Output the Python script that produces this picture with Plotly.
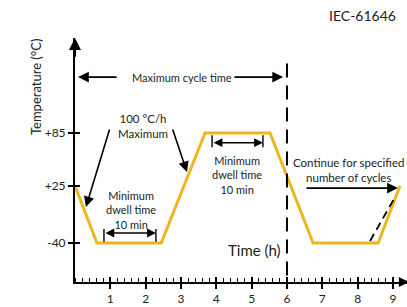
import plotly.graph_objects as go

# ---------------- data ----------------
profile_time_h = [0, 0.62, 2.44, 3.68, 5.52, 6.74, 8.58, 9.2]
profile_temp_c = [25, -40, -40, 85, 85, -40, -40, 25]

continue_time_h = [8.35, 9.06]
continue_temp_c = [-37.7, 12.3]

cycle_end_time_h = [6, 6]
cycle_end_temp_c = [164, -79]

x_tick_vals = [1, 2, 3, 4, 5, 6, 7, 8, 9]
x_tick_text = ["1", "2", "3", "4", "5", "6", "7", "8", "9"]
y_tick_vals = [-40, 25, 85]
y_tick_text = ["-40", "+25", "+85"]

X_RANGE = [0, 9.397]
Y_RANGE = [-84.3, 193]

FONT = "Lato, 'DejaVu Sans', sans-serif"
TXT = "#222222"
GOLD = "#EFB521"

fig = go.Figure()

fig.add_trace(go.Scatter(
    x=profile_time_h, y=profile_temp_c, mode="lines",
    line=dict(color=GOLD, width=3), hoverinfo="skip", showlegend=False,
    cliponaxis=False))

fig.add_trace(go.Scatter(
    x=continue_time_h, y=continue_temp_c, mode="lines",
    line=dict(color="black", width=1.8, dash="8px,5px"),
    hoverinfo="skip", showlegend=False))

fig.add_trace(go.Scatter(
    x=cycle_end_time_h, y=cycle_end_temp_c, mode="lines",
    line=dict(color="black", width=2, dash="14px,8px"),
    hoverinfo="skip", showlegend=False))

# invisible trace for overlay axes (inside halves of major ticks)
fig.add_trace(go.Scatter(x=[None], y=[None], xaxis="x2", yaxis="y2",
                         showlegend=False, hoverinfo="skip"))

annotations = []

def text(x, y, s, size=11, xanchor="center", yanchor="middle", xref="x", yref="y",
         angle=0):
    annotations.append(dict(x=x, y=y, xref=xref, yref=yref, text=s, showarrow=False,
                            xanchor=xanchor, yanchor=yanchor, textangle=angle,
                            font=dict(family=FONT, size=size, color=TXT)))

def arrow(x0, y0, x1, y1, both=False, head=2, size=1.3, width=1.6):
    a = dict(x=x1, y=y1, ax=x0, ay=y0, xref="x", yref="y", axref="x", ayref="y",
             text="", showarrow=True, arrowhead=head, arrowsize=size,
             arrowwidth=width, arrowcolor="black", standoff=0, startstandoff=0)
    if both:
        a.update(arrowside="end+start", startarrowhead=head, startarrowsize=size)
    annotations.append(a)

def bar(x, y0, y1):
    annotations.append(dict(x=x, y=y0, ax=x, ay=y1, xref="x", yref="y",
                            axref="x", ayref="y", text="", showarrow=True,
                            arrowhead=0, arrowwidth=1.4, arrowcolor="black",
                            standoff=0, startstandoff=0))

# header / titles
text(0.973, 1.094, "IEC-61646", size=14, xanchor="right", xref="paper", yref="paper")
text(-0.1175, 0.799, "Temperature (°C)", size=13, xref="paper", yref="paper", angle=-90)
text(5.89, -48, "Time (h)", size=15, xanchor="right")

# axis arrows
arrow(0, 170, 0, 193, head=2, size=1.2, width=2)
arrow(9.2, -84.3, 9.45, -84.3, head=2, size=1.0, width=2)

# maximum cycle time
text(3.03, 148.6, "Maximum cycle time", size=11)
arrow(1.22, 148.6, 0.085, 148.6, head=2, size=1.2, width=1.8)
arrow(4.47, 148.6, 5.89, 148.6, head=2, size=1.2, width=1.8)

# ramp rate
text(1.92, 93.5, "100 °C/h<br>Maximum", size=11.5)
arrow(0.99, 90.7, 0.31, 0.9, head=2, size=1.3, width=1.6)
arrow(2.75, 90.7, 3.17, 40.7, head=2, size=1.3, width=1.6)

# left dwell
text(1.585, -2.5, "Minimum<br>dwell time<br>10 min", size=11)
arrow(0.82, -28.6, 2.29, -28.6, both=True, head=2, size=1.1, width=1.6)
for tx in (0.82, 2.29):
    bar(tx, -38.5, -22.5)

# right dwell
text(4.585, 37.3, "Minimum<br>dwell time<br>10 min", size=11)
arrow(3.88, 74.0, 5.32, 74.0, both=True, head=2, size=1.1, width=1.6)
for tx in (3.88, 5.32):
    bar(tx, 82.5, 67.0)

# continue
text(7.73, 43.5, "Continue for specified<br>number of cycles", size=11.5)
arrow(6.51, 22.5, 9.14, 22.5, head=2, size=1.2, width=1.8)

axis_common = dict(showgrid=False, zeroline=False)

fig.update_layout(
    width=407, height=307,
    margin=dict(l=75, r=0, t=38, b=25, pad=0),
    paper_bgcolor="white", plot_bgcolor="white",
    showlegend=False,
    annotations=annotations,
    xaxis=dict(range=X_RANGE, showline=True, linecolor="black", linewidth=2,
               tickmode="array", tickvals=x_tick_vals, ticktext=x_tick_text,
               ticks="outside", ticklen=5, tickwidth=1.6, tickcolor="black",
               tickfont=dict(family=FONT, size=12, color=TXT),
               minor=dict(ticks="inside", ticklen=4, tickwidth=1.3, tickcolor="black",
                          tick0=0, dtick=0.2),
               fixedrange=True, **axis_common),
    yaxis=dict(range=Y_RANGE, showline=True, linecolor="black", linewidth=2,
               tickmode="array", tickvals=y_tick_vals, ticktext=y_tick_text,
               ticks="outside", ticklen=5, tickwidth=2, tickcolor="black",
               tickfont=dict(family=FONT, size=12, color=TXT),
               fixedrange=True, **axis_common),
    xaxis2=dict(range=X_RANGE, overlaying="x", anchor="y2", tickmode="array",
                tickvals=x_tick_vals, ticks="inside", ticklen=5, tickwidth=1.6,
                tickcolor="black", showticklabels=False, showline=False,
                fixedrange=True, **axis_common),
    yaxis2=dict(range=Y_RANGE, overlaying="y", anchor="x2", side="left",
                tickmode="array", tickvals=y_tick_vals, ticks="inside", ticklen=5,
                tickwidth=2, tickcolor="black", showticklabels=False, showline=False,
                fixedrange=True, **axis_common),
)

fig.write_html("out.html", config={"displayModeBar": False},
               post_script="document.body.style.margin='0';document.body.style.overflow='hidden';")
